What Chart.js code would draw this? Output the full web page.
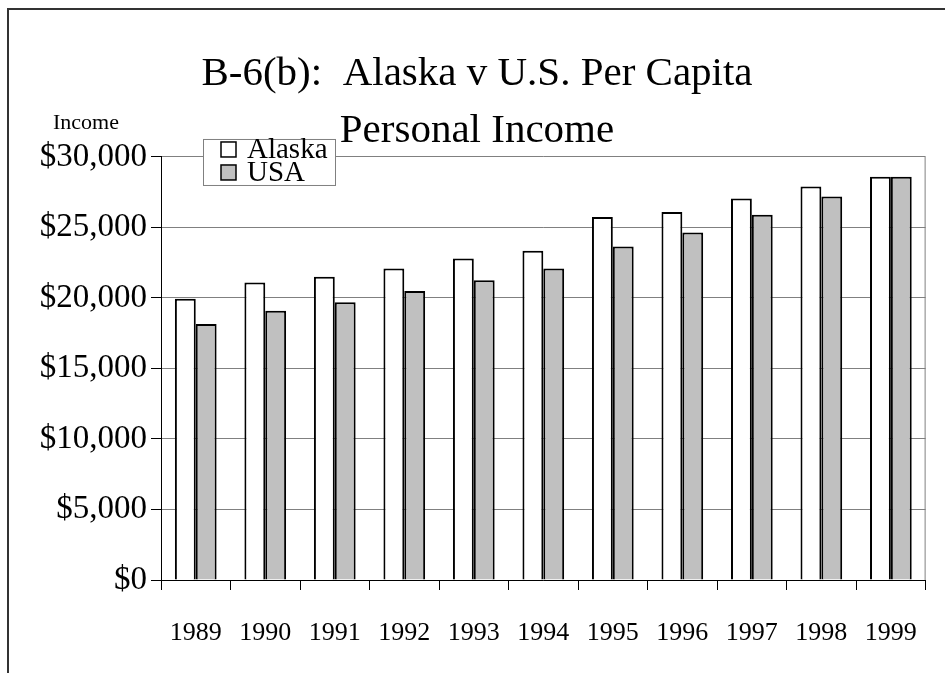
<!DOCTYPE html>
<html>
<head>
<meta charset="utf-8">
<script src="https://cdn.jsdelivr.net/npm/chart.js@4/dist/chart.umd.min.js"></script>
<style>
html,body{margin:0;padding:0;background:#fff;}
#wrap{width:945px;height:673px;position:relative;}
</style>
</head>
<body>
<div id="wrap"><canvas id="c"></canvas></div>
<script>
const years = ['1989','1990','1991','1992','1993','1994','1995','1996','1997','1998','1999'];
const alaska = [19950, 21100, 21500, 22100, 22800, 23350, 25750, 26100, 27050, 27900, 28600];
const usa = [18150, 19100, 19700, 20500, 21250, 22100, 23650, 24650, 25900, 27200, 28600];
const seriesNames = ['Alaska', 'USA'];
const yMin = 0, yMax = 30000, yStep = 5000;
const titleLines = ['B-6(b):  Alaska v U.S. Per Capita', 'Personal Income'];
const yAxisLabel = 'Income';

const FONT = '"Liberation Serif", "Times New Roman", serif';

const decor = {
  id: 'decor',
  beforeDraw(chart) {
    const ctx = chart.ctx;
    ctx.save();
    ctx.fillStyle = '#fff';
    ctx.fillRect(0, 0, chart.width, chart.height);
    ctx.restore();
  },
  afterDraw(chart) {
    const ctx = chart.ctx, a = chart.chartArea;
    ctx.save();
    // outer frame (top + left)
    ctx.strokeStyle = '#333';
    ctx.lineWidth = 2;
    ctx.beginPath();
    ctx.moveTo(8, chart.height);
    ctx.lineTo(8, 9);
    ctx.lineTo(chart.width, 9);
    ctx.stroke();
    // right border of plot
    ctx.strokeStyle = '#808080';
    ctx.lineWidth = 1;
    ctx.beginPath();
    ctx.moveTo(a.right - 0.5, a.top);
    ctx.lineTo(a.right - 0.5, a.bottom);
    ctx.stroke();
    // axis label
    ctx.fillStyle = '#000';
    ctx.font = '22px ' + FONT;
    ctx.textAlign = 'center';
    ctx.textBaseline = 'alphabetic';
    ctx.fillText(yAxisLabel, 86, a.top - 28);
    // legend
    const lx = a.left + 42, ly = a.top - 18, lw = 132, lh = 46;
    ctx.fillStyle = '#fff';
    ctx.fillRect(lx, ly, lw, lh);
    ctx.strokeStyle = '#808080';
    ctx.lineWidth = 1;
    ctx.strokeRect(lx + 0.5, ly + 0.5, lw, lh);
    ctx.font = '29px ' + FONT;
    ctx.textAlign = 'left';
    ctx.textBaseline = 'middle';
    chart.data.datasets.forEach((ds, i) => {
      const cy = ly + 10 + i * 23;
      ctx.fillStyle = ds.backgroundColor;
      ctx.fillRect(lx + 18, cy - 7, 15, 15);
      ctx.strokeStyle = '#000';
      ctx.lineWidth = 1.5;
      ctx.strokeRect(lx + 18, cy - 7, 15, 15);
      ctx.fillStyle = '#000';
      ctx.fillText(ds.label, lx + 44, cy + 1);
    });
    ctx.restore();
  }
};

new Chart(document.getElementById('c'), {
  type: 'bar',
  data: {
    labels: years,
    datasets: [
      { label: seriesNames[0], data: alaska, backgroundColor: '#ffffff', borderColor: '#000', borderWidth: 2 },
      { label: seriesNames[1], data: usa, backgroundColor: '#c0c0c0', borderColor: '#000', borderWidth: 2 }
    ]
  },
  options: {
    responsive: true,
    maintainAspectRatio: false,
    animation: false,
    layout: { padding: { left: 12, right: 3, top: 0, bottom: 0 } },
    datasets: { bar: { categoryPercentage: 0.6, barPercentage: 1.0 } },
    plugins: {
      legend: { display: false },
      tooltip: { enabled: false },
      title: {
        display: true,
        text: titleLines,
        color: '#000',
        font: { family: FONT, size: 41, weight: 'normal', lineHeight: 1.39 },
        padding: { top: 46, bottom: -3 }
      }
    },
    scales: {
      x: {
        grid: { offset: true, drawOnChartArea: false, drawTicks: true, tickLength: 10, color: '#000' },
        border: { display: true, color: '#000', width: 1 },
        ticks: { color: '#000', font: { family: FONT, size: 26 }, padding: 28, maxRotation: 0 },
        afterFit(s) { s.height = 93; }
      },
      y: {
        min: yMin, max: yMax,
        grid: { color: '#808080', tickColor: '#000', tickLength: 10 },
        border: { display: true, color: '#000', width: 1 },
        ticks: {
          stepSize: yStep, color: '#000', padding: 4,
          font: { family: FONT, size: 33 },
          callback: v => '$' + Number(v).toLocaleString('en-US')
        },
        afterFit(s) { s.width = 149; }
      }
    }
  },
  plugins: [decor]
});
</script>
</body>
</html>
